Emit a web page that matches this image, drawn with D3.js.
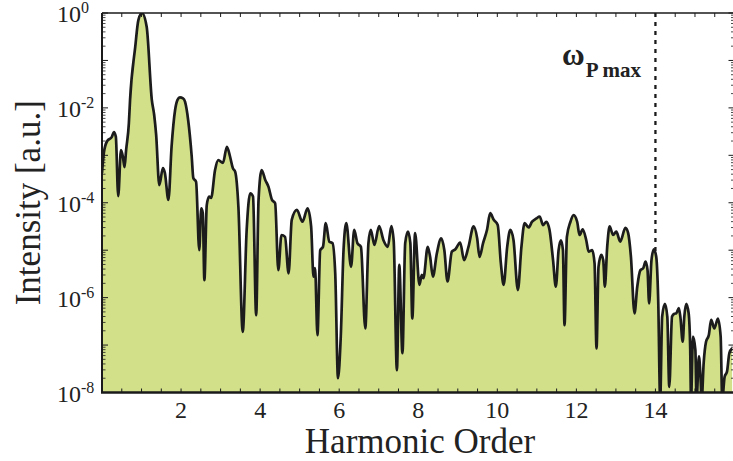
<!DOCTYPE html>
<html>
<head>
<meta charset="utf-8">
<script src="https://cdn.jsdelivr.net/npm/d3@7"></script>
<style>
  html, body { margin: 0; padding: 0; background: #fff; }
  svg { display: block; }
  text { font-family: "Liberation Serif", "Times New Roman", serif; fill: #222; }
</style>
</head>
<body>
<svg id="chart" width="733" height="461"></svg>
<script>
// Harmonic order (x) of each sampled point of the spectrum
const harmonicOrder = [
  0.00, 0.05, 0.13, 0.25, 0.30, 0.35, 0.41, 0.48, 0.53, 0.57, 0.61, 0.68, 0.71, 0.84, 0.92, 1.01,
  1.13, 1.26, 1.32, 1.37, 1.45, 1.54, 1.59, 1.68, 1.76, 1.85, 1.91, 1.97, 2.05, 2.10, 2.18, 2.27,
  2.31, 2.38, 2.46, 2.51, 2.55, 2.59, 2.65, 2.71, 2.76, 2.86, 2.94, 3.06, 3.16, 3.24, 3.31, 3.37,
  3.45, 3.56, 3.66, 3.75, 3.82, 3.90, 3.96, 4.04, 4.13, 4.21, 4.30, 4.38, 4.46, 4.54, 4.63, 4.72,
  4.80, 4.93, 5.07, 5.20, 5.29, 5.35, 5.39, 5.45, 5.52, 5.59, 5.66, 5.75, 5.83, 5.90, 5.97, 6.04,
  6.11, 6.18, 6.30, 6.38, 6.46, 6.55, 6.66, 6.74, 6.80, 6.89, 7.01, 7.12, 7.23, 7.32, 7.38, 7.46,
  7.52, 7.60, 7.67, 7.74, 7.80, 7.85, 7.92, 8.03, 8.09, 8.13, 8.24, 8.30, 8.37, 8.47, 8.58, 8.66,
  8.74, 8.85, 8.94, 9.06, 9.16, 9.27, 9.40, 9.49, 9.55, 9.64, 9.74, 9.82, 9.91, 10.01, 10.09, 10.16,
  10.25, 10.33, 10.41, 10.52, 10.61, 10.69, 10.79, 10.88, 10.99, 11.07, 11.16, 11.24, 11.32, 11.41, 11.48, 11.55,
  11.61, 11.66, 11.70, 11.76, 11.85, 11.93, 12.02, 12.08, 12.16, 12.25, 12.31, 12.40, 12.46, 12.51, 12.56, 12.63,
  12.68, 12.72, 12.78, 12.84, 12.93, 13.01, 13.11, 13.24, 13.31, 13.38, 13.47, 13.54, 13.62, 13.69, 13.75, 13.80,
  13.84, 13.90, 13.96, 14.02, 14.07, 14.12, 14.17, 14.24, 14.30, 14.35, 14.42, 14.48, 14.53, 14.59, 14.63, 14.69,
  14.73, 14.78, 14.84, 14.88, 14.90, 14.95, 15.01, 15.04, 15.10, 15.14, 15.17, 15.22, 15.28, 15.35, 15.41, 15.49,
  15.58, 15.65, 15.69, 15.75, 15.81, 15.87, 15.94
];

// Spectral intensity as a power of ten (intensity = 10^exponent, a.u.)
const intensityExp = [
  -3.37, -2.93, -2.70, -2.61, -2.51, -2.61, -3.86, -2.89, -3.04, -3.25, -2.89, -2.32, -1.83, -0.72, -0.15, 0.00,
  -0.29, -1.83, -2.15, -2.57, -3.63, -3.27, -3.37, -3.94, -2.82, -2.04, -1.83, -1.78, -1.80, -1.87, -2.26, -3.03,
  -3.48, -3.56, -5.00, -4.12, -4.22, -5.63, -4.05, -3.87, -3.90, -3.31, -3.10, -3.16, -2.82, -3.03, -3.27, -3.35,
  -4.08, -6.72, -4.57, -3.80, -3.87, -6.37, -3.94, -3.31, -3.52, -3.66, -3.94, -4.01, -5.42, -4.68, -4.72, -5.49,
  -4.36, -4.15, -4.40, -4.12, -4.50, -5.56, -5.38, -6.79, -5.00, -4.93, -4.43, -4.82, -4.85, -5.49, -7.70, -6.82,
  -5.00, -4.43, -5.35, -4.57, -4.85, -4.93, -6.65, -4.85, -4.57, -4.89, -4.49, -4.79, -4.93, -4.49, -4.82, -7.53,
  -5.31, -7.17, -4.85, -4.61, -4.85, -6.44, -4.64, -5.73, -5.52, -5.59, -4.93, -5.14, -5.56, -5.07, -4.75, -5.00,
  -5.66, -5.03, -4.98, -4.84, -5.21, -4.93, -4.50, -4.75, -5.14, -4.85, -4.57, -4.22, -4.36, -4.47, -5.28, -5.73,
  -4.93, -4.57, -4.79, -5.84, -4.93, -4.43, -4.52, -4.40, -4.33, -4.29, -4.47, -4.40, -4.57, -5.21, -5.77, -5.00,
  -4.79, -5.00, -6.58, -4.72, -4.40, -4.26, -4.40, -4.68, -4.56, -4.79, -5.03, -5.00, -5.28, -7.07, -5.35, -5.10,
  -5.21, -5.77, -4.93, -4.50, -4.68, -4.61, -4.82, -4.53, -4.64, -5.14, -6.33, -5.77, -5.42, -5.38, -5.24, -5.42,
  -6.12, -5.21, -4.98, -5.14, -6.05, -8.16, -6.40, -6.13, -6.40, -7.88, -6.40, -6.34, -6.33, -6.22, -6.40, -6.93,
  -6.40, -6.13, -6.33, -7.10, -8.16, -6.82, -7.10, -8.16, -7.24, -7.67, -8.16, -7.38, -6.93, -6.79, -6.47, -6.65,
  -6.44, -6.82, -8.16, -7.67, -7.56, -7.17, -7.07
];

// Axis ticks and labels
const xTickValues = d3.range(0, 16.01, 0.5);
const xLabelValues = [2, 4, 6, 8, 10, 12, 14];
const yDecadeExps = [0, -2, -4, -6, -8];
const yMinorMultipliers = [2, 3, 4, 5, 6, 7, 8, 9];

// Marker for the maximum plasma frequency
const cutoffOrder = 14;

const svg = d3.select("#chart");
const plotLeft = 102, plotRight = 734.5, plotTop = 13, plotBottom = 392.5;

const x = d3.scaleLinear().domain([0, 16]).range([plotLeft, plotRight]);
const y = d3.scaleLog().domain([1e-8, 1]).range([plotBottom, plotTop]);

const data = harmonicOrder.map((h, i) => ({ h, v: Math.pow(10, intensityExp[i]) }));

svg.append("defs").append("clipPath").attr("id", "plotClip")
  .append("rect").attr("x", plotLeft).attr("y", plotTop)
  .attr("width", plotRight - plotLeft).attr("height", plotBottom - plotTop);

const plot = svg.append("g").attr("clip-path", "url(#plotClip)");

// Dashed vertical marker (behind the filled spectrum)
plot.append("line")
  .attr("x1", x(cutoffOrder)).attr("x2", x(cutoffOrder))
  .attr("y1", plotTop).attr("y2", plotBottom)
  .attr("stroke", "#1a1a1a").attr("stroke-width", 2.3)
  .attr("stroke-dasharray", "4,5");

const curve = d3.curveMonotoneX;

plot.append("path")
  .datum(data)
  .attr("fill", "#d3e08a")
  .attr("d", d3.area().x(d => x(d.h)).y0(plotBottom).y1(d => y(d.v)).curve(curve));

plot.append("path")
  .datum(data)
  .attr("fill", "none")
  .attr("stroke", "#1c1c1c")
  .attr("stroke-width", 2.7)
  .attr("stroke-linejoin", "round")
  .attr("d", d3.line().x(d => x(d.h)).y(d => y(d.v)).curve(curve));

// Frame and ticks
const frame = svg.append("g").attr("stroke", "#1a1a1a");
frame.append("line").attr("x1", plotLeft).attr("x2", plotRight).attr("y1", plotTop).attr("y2", plotTop).attr("stroke-width", 1.4);
frame.append("line").attr("x1", plotRight).attr("x2", plotRight).attr("y1", plotTop).attr("y2", plotBottom).attr("stroke-width", 1.4);
frame.append("line").attr("x1", plotLeft).attr("x2", plotLeft).attr("y1", plotTop).attr("y2", plotBottom).attr("stroke-width", 2);
frame.append("line").attr("x1", plotLeft - 1).attr("x2", plotRight).attr("y1", plotBottom).attr("y2", plotBottom).attr("stroke-width", 2.4);

xTickValues.forEach(t => {
  frame.append("line").attr("x1", x(t)).attr("x2", x(t)).attr("y1", plotBottom).attr("y2", plotBottom - 4).attr("stroke-width", 1);
  frame.append("line").attr("x1", x(t)).attr("x2", x(t)).attr("y1", plotTop).attr("y2", plotTop + 4).attr("stroke-width", 1);
});

const majorY = d3.range(-8, 1).map(e => Math.pow(10, e));
const minorY = [];
for (let e = -8; e < 0; e++) yMinorMultipliers.forEach(m => minorY.push(m * Math.pow(10, e)));

majorY.forEach(v => {
  frame.append("line").attr("x1", plotLeft).attr("x2", plotLeft + 6).attr("y1", y(v)).attr("y2", y(v)).attr("stroke-width", 1);
  frame.append("line").attr("x1", plotRight).attr("x2", plotRight - 6).attr("y1", y(v)).attr("y2", y(v)).attr("stroke-width", 1);
});
minorY.forEach(v => {
  frame.append("line").attr("x1", plotLeft).attr("x2", plotLeft + 3.5).attr("y1", y(v)).attr("y2", y(v)).attr("stroke-width", 0.8);
  frame.append("line").attr("x1", plotRight).attr("x2", plotRight - 3.5).attr("y1", y(v)).attr("y2", y(v)).attr("stroke-width", 0.8);
});

// Tick labels
xLabelValues.forEach(t => {
  svg.append("text").attr("x", x(t)).attr("y", 418)
    .attr("text-anchor", "middle").attr("font-size", 24).text(t);
});

yDecadeExps.forEach(e => {
  const t = svg.append("text").attr("x", 57).attr("y", y(Math.pow(10, e)) + 9).attr("font-size", 24);
  t.append("tspan").text("10");
  t.append("tspan").attr("font-size", 16).attr("dy", -9).text(e === 0 ? "0" : "-" + Math.abs(e));
});

// Axis titles
svg.append("text")
  .attr("transform", `translate(40,${(plotTop + plotBottom) / 2}) rotate(-90)`)
  .attr("text-anchor", "middle").attr("font-size", 35)
  .text("Intensity [a.u.]");

svg.append("text")
  .attr("x", 420).attr("y", 453)
  .attr("text-anchor", "middle").attr("font-size", 35)
  .text("Harmonic Order");

// Annotation
const ann = svg.append("text").attr("x", 562).attr("y", 65).attr("font-weight", "bold");
ann.append("tspan").attr("font-size", 31).text("ω");
ann.append("tspan").attr("font-size", 21).attr("dy", 12).attr("dx", 1).text("P max");
</script>
</body>
</html>
